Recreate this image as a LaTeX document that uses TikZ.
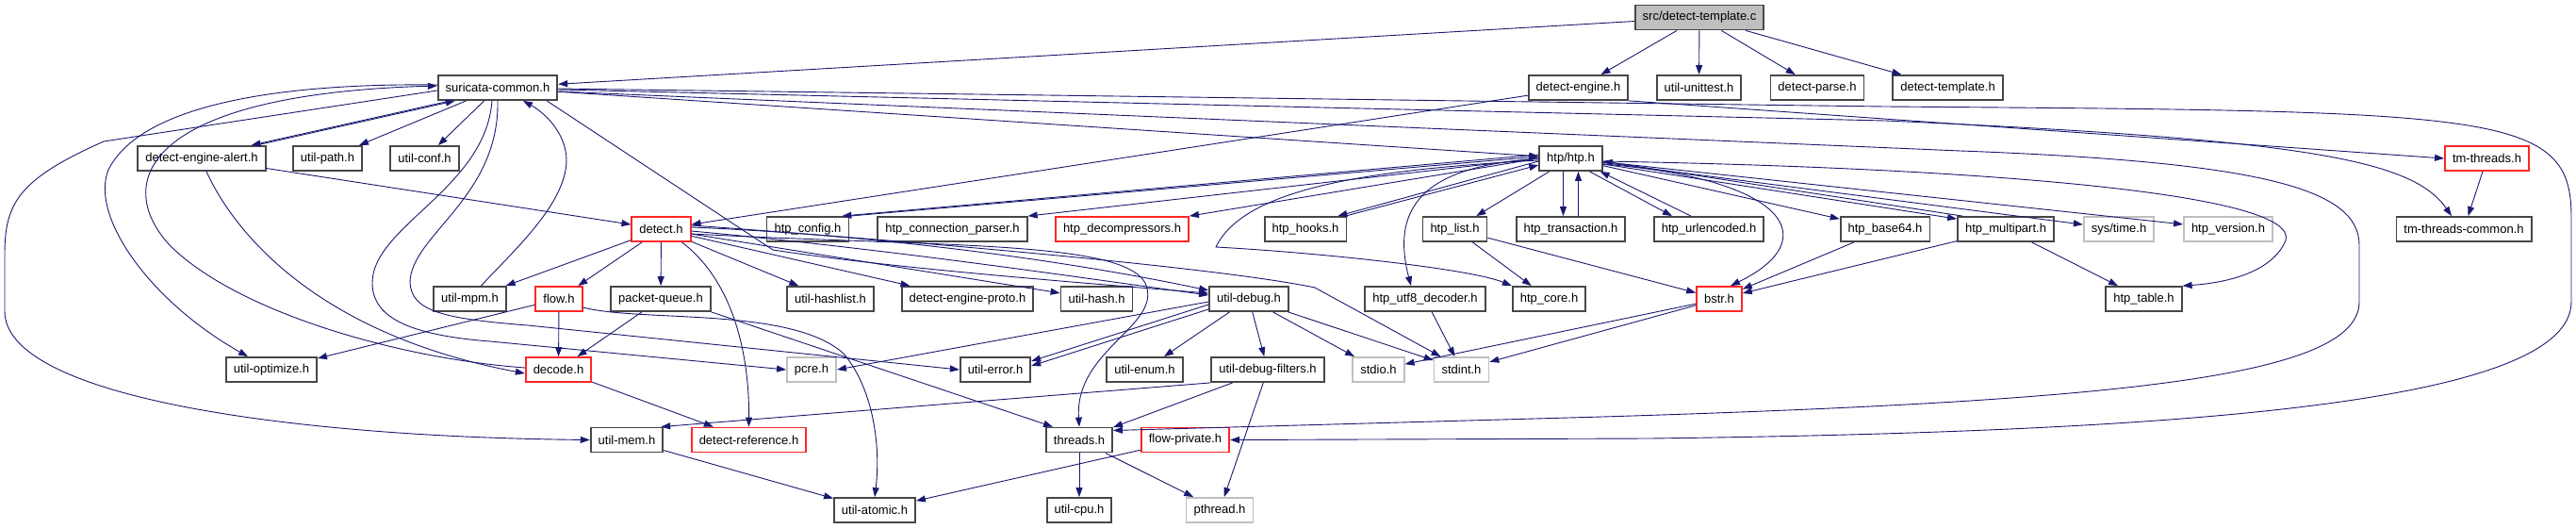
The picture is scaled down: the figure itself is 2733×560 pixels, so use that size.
\documentclass[tikz,border=0pt]{standalone}
\usepackage{fontspec}
\setmainfont{Liberation Sans}
\usetikzlibrary{arrows.meta}
\definecolor{edgeblue}{HTML}{191970}
\definecolor{sysgray}{HTML}{BFBFBF}
\tikzset{
  hdr/.style={draw=black!72, line width=1.8pt, fill=white, inner xsep=8pt, inner ysep=0pt,
    minimum height=26pt, font=\fontsize{13}{15}\selectfont},
  hdrtrunc/.style={hdr, draw=red!85},
  hdrsys/.style={hdr, draw=sysgray},
  srcfile/.style={hdr, fill=sysgray},
  dep/.style={draw=edgeblue, line width=0.9pt, -{Triangle[length=10pt,width=7pt]}},
}
\begin{document}
\begin{tikzpicture}[x=1pt,y=-1pt]
    \useasboundingbox (0,0) rectangle (2733,560);
    % source file
    \node[srcfile] (tmplc) at (1803,18.5) {src/detect-template.c};
    % first level
    \node[hdr] (sc) at (528,93) {suricata-common.h};
    \node[hdr] (de) at (1674.5,93) {detect-engine.h};
    \node[hdr] (uut) at (1802.5,93) {util-unittest.h};
    \node[hdr] (dparse) at (1928,93) {detect-parse.h};
    \node[hdr] (dtmplh) at (2066.5,93) {detect-template.h};
    % second level
    \node[hdr] (dea) at (214,168) {detect-engine-alert.h};
    \node[hdr] (upath) at (347.5,168) {util-path.h};
    \node[hdr] (uconf) at (450.5,168) {util-conf.h};
    \node[hdr] (htp) at (1666.5,168) {htp/htp.h};
    \node[hdrtrunc] (tmt) at (2638.5,168) {tm-threads.h};
    % third level
    \node[hdrtrunc] (det) at (701.5,243) {detect.h};
    \node[hdr] (hcfg) at (857,243) {htp\_config.h};
    \node[hdr] (hconn) at (1010.5,243) {htp\_connection\_parser.h};
    \node[hdrtrunc] (hdec) at (1190.5,243) {htp\_decompressors.h};
    \node[hdr] (hhooks) at (1385,243) {htp\_hooks.h};
    \node[hdr] (hlist) at (1543.5,243) {htp\_list.h};
    \node[hdr] (htx) at (1666.5,243) {htp\_transaction.h};
    \node[hdr] (hurl) at (1813,243) {htp\_urlencoded.h};
    \node[hdr] (hb64) at (2000,243) {htp\_base64.h};
    \node[hdr] (hmp) at (2128,243) {htp\_multipart.h};
    \node[hdrsys] (stime) at (2248,243) {sys/time.h};
    \node[hdrsys] (hver) at (2364,243) {htp\_version.h};
    \node[hdr] (tmtc) at (2614,243) {tm-threads-common.h};
    % fourth level
    \node[hdr] (umpm) at (498.5,317) {util-mpm.h};
    \node[hdrtrunc] (flow) at (593,317) {flow.h};
    \node[hdr] (pq) at (701,317) {packet-queue.h};
    \node[hdr] (uhl) at (881,317) {util-hashlist.h};
    \node[hdr] (deproto) at (1026.5,317) {detect-engine-proto.h};
    \node[hdr] (uhash) at (1163.5,317) {util-hash.h};
    \node[hdr] (udbg) at (1325,317) {util-debug.h};
    \node[hdr] (hutf) at (1512,317) {htp\_utf8\_decoder.h};
    \node[hdr] (hcore) at (1643.5,317) {htp\_core.h};
    \node[hdrtrunc] (bstr) at (1824,317) {bstr.h};
    \node[hdr] (htab) at (2274.5,317) {htp\_table.h};
    % fifth level
    \node[hdr] (uopt) at (288,392) {util-optimize.h};
    \node[hdrtrunc] (dec) at (592.5,392) {decode.h};
    \node[hdrsys] (pcre) at (861,392) {pcre.h};
    \node[hdr] (uerr) at (1056,392) {util-error.h};
    \node[hdr] (uenum) at (1214.5,392) {util-enum.h};
    \node[hdr] (udf) at (1345,392) {util-debug-filters.h};
    \node[hdrsys] (stdio) at (1462.5,392) {stdio.h};
    \node[hdrsys] (stdint) at (1550.5,392) {stdint.h};
    % sixth level
    \node[hdr] (umem) at (665,466.5) {util-mem.h};
    \node[hdrtrunc] (dref) at (794.5,466.5) {detect-reference.h};
    \node[hdr] (thr) at (1145,466.5) {threads.h};
    \node[hdrtrunc] (fpriv) at (1257.5,466.5) {flow-private.h};
    % last level
    \node[hdr] (uatom) at (928,541) {util-atomic.h};
    \node[hdr] (ucpu) at (1145,541) {util-cpu.h};
    \node[hdrsys] (pth) at (1294,541) {pthread.h};

    % includes of the source file
    \draw[dep] (tmplc) -- (sc);
    \draw[dep] (tmplc) -- (de);
    \draw[dep] (tmplc) -- (uut);
    \draw[dep] (tmplc) -- (dparse);
    \draw[dep] (tmplc) -- (dtmplh);

    % suricata-common.h
    \draw[dep] ([xshift=14pt]sc.south west) -- ([xshift=-16pt]dea.north east);
    \draw[dep] ([xshift=-11pt]dea.north east) -- ([xshift=19pt]sc.south west);
    \draw[dep] (sc) -- (upath);
    \draw[dep] (sc) -- (uconf);
    \draw[dep] ([yshift=3pt]sc.west) .. controls (300,88) and (150,110) .. (115,180)
        .. controls (95,230) and (160,320) .. ([xshift=-25pt]uopt.north);
    \draw[dep] ([yshift=-3pt]sc.west) -- (110,150) .. controls (20,190) and (5,215) .. (5,270)
        -- (5,330) .. controls (5,420) and (300,463) .. (umem.west);
    \draw[dep] ([xshift=-6pt]sc.south) .. controls (515,200) and (395,240) .. (395,300)
        .. controls (395,335) and (430,355) .. (520,362) -- (pcre.west);
    \draw[dep] (sc.south) .. controls (530,210) and (435,250) .. (435,300)
        .. controls (437,330) and (470,338) .. (560,345) -- (uerr.west);
    \draw[dep] ([xshift=-12pt]sc.south east) -- (820,265)
        .. controls (950,285) and (1150,300) .. ([yshift=6pt]udbg.west);
    \draw[dep] (sc) -- (htp);
    \draw[dep] ([yshift=-2pt]sc.east) -- (2000,128)
        .. controls (2450,148) and (2560,170) .. ([xshift=-13pt]tmtc.north);
    \draw[dep] ([yshift=-4pt]sc.east) -- (2080,160) .. controls (2400,172) and (2503,200) .. (2503,260)
        -- (2503,320) .. controls (2503,400) and (2250,425) .. (1700,442) -- ([yshift=10pt]thr.east);
    \draw[dep] ([yshift=-1pt]sc.east) -- (2000,113) .. controls (2650,118) and (2728,118) .. (2728,230)
        -- (2728,320) .. controls (2728,430) and (2300,458) .. (1750,465) -- (fpriv.east);

    % into suricata-common.h
    \draw[dep] ([yshift=2pt]dec.west) .. controls (420,380) and (250,330) .. (180,260)
        .. controls (120,195) and (150,100) .. ([yshift=2pt]sc.west);
    \draw[dep] ([xshift=12pt]umpm.north) .. controls (540,270) and (610,210) .. (600,160)
        .. controls (595,135) and (575,118) .. ([xshift=27pt]sc.south);

    % detect-engine-alert.h and detect-engine.h
    \draw[dep] (dea) -- (det);
    \draw[dep] ([xshift=5pt]dea.south) .. controls (250,250) and (340,355) .. ([yshift=-4pt]dec.west);
    \draw[dep] (de) -- (det);
    \draw[dep] (de.south east) -- (tmt.west);
    \draw[dep] (tmt) -- (tmtc);

    % detect.h
    \draw[dep] (det) -- (umpm);
    \draw[dep] (det) -- (flow);
    \draw[dep] (det) -- (pq);
    \draw[dep] ([xshift=22pt]det.south) .. controls (780,300) and (795,380) .. (dref.north);
    \draw[dep] (det) -- (uhl);
    \draw[dep] (det) -- (deproto);
    \draw[dep] (det) -- (uhash);
    \draw[dep] ([yshift=2pt]det.east) .. controls (950,250) and (1150,280) .. ([yshift=9pt]udbg.west);
    \draw[dep] ([yshift=-2pt]det.east) .. controls (950,265) and (1150,295) .. ([yshift=4pt]udbg.west);
    \draw[dep] ([yshift=-5pt]det.east) .. controls (1000,262) and (1190,255) .. (1215,300)
        .. controls (1235,345) and (1140,370) .. (thr.north);
    \draw[dep] ([yshift=4pt]det.east) .. controls (1000,258) and (1300,285) .. (1395,305)
        -- ([xshift=-22pt]stdint.north);

    % flow.h, packet-queue.h, decode.h
    \draw[dep] (flow) -- (dec);
    \draw[dep] (flow) -- (uopt);
    \draw[dep] ([yshift=-9pt]flow.east) .. controls (680,342) and (840,325) .. (895,375)
        .. controls (925,410) and (935,470) .. (uatom.north);
    \draw[dep] (pq) -- (dec);
    \draw[dep] (pq.south east) -- ([xshift=-28pt]thr.north);
    \draw[dep] (dec) -- (dref);
    \draw[dep] (umem) -- (uatom);

    % util-debug.h
    \draw[dep] ([yshift=-3pt]udbg.west) -- (pcre.east);
    \draw[dep] ([yshift=-6pt]udbg.west) -- ([yshift=9pt]uerr.east);
    \draw[dep] ([yshift=-11pt]udbg.west) -- ([yshift=4pt]uerr.east);
    \draw[dep] (udbg) -- (uenum);
    \draw[dep] (udbg) -- (udf);
    \draw[dep] (udbg) -- (stdio);
    \draw[dep] (udbg) -- (stdint);
    \draw[dep] (udf.south west) -- ([xshift=-3pt]umem.north east);
    \draw[dep] (udf) -- (thr);
    \draw[dep] (udf) -- (pth);
    \draw[dep] (thr) -- (ucpu);
    \draw[dep] (thr) -- (pth);
    \draw[dep] (fpriv) -- (uatom);

    % htp/htp.h
    \draw[dep] ([yshift=4pt]htp.west) -- ([xshift=-8pt]hcfg.north east);
    \draw[dep] (hcfg.north east) -- ([yshift=2pt]htp.west);
    \draw[dep] (htp.west) -- (hconn.north east);
    \draw[dep] (htp.west) -- (hdec.north east);
    \draw[dep] ([yshift=-3pt]htp.west) -- ([xshift=-10pt]hhooks.north east);
    \draw[dep] ([xshift=-2pt]hhooks.north east) -- ([yshift=-7pt]htp.west);
    \draw[dep] (htp) -- (hlist);
    \draw[dep] ([xshift=-8pt]htp.south) -- ([xshift=-8pt]htx.north);
    \draw[dep] ([xshift=8pt]htx.north) -- ([xshift=8pt]htp.south);
    \draw[dep] ([xshift=20pt]htp.south) -- ([xshift=-39pt]hurl.north);
    \draw[dep] ([xshift=-19pt]hurl.north) -- ([xshift=-3pt]htp.south east);
    \draw[dep] (htp) -- (hb64);
    \draw[dep] ([yshift=-6pt]htp.east) -- ([yshift=-3pt]hmp.north west);
    \draw[dep] ([xshift=6pt]hmp.north west) -- ([yshift=-3pt]htp.east);
    \draw[dep] (htp) -- (stime);
    \draw[dep] (htp) -- (hver);
    \draw[dep] ([yshift=-3pt]htp.east) .. controls (2100,178) and (2440,205) .. (2425,255)
        .. controls (2410,290) and (2360,300) .. (htab.north east);
    \draw[dep] ([yshift=-6pt]htp.east) .. controls (1900,190) and (1935,255) .. ([xshift=12pt]bstr.north);
    \draw[dep] (htp.west) .. controls (1540,175) and (1470,200) .. ([xshift=-15pt]hutf.north);
    \draw[dep] ([yshift=-2pt]htp.west) .. controls (1450,180) and (1320,200) .. (1290,262)
        .. controls (1400,268) and (1560,285) .. (hcore.north west);

    % htp headers below
    \draw[dep] (hlist) -- (hcore);
    \draw[dep] (hlist) -- (bstr);
    \draw[dep] (hb64) -- (bstr);
    \draw[dep] (hmp) -- (bstr);
    \draw[dep] (hmp) -- (htab);
    \draw[dep] (hutf) -- (stdint);
    \draw[dep] (bstr) -- (stdio);
    \draw[dep] (bstr) -- (stdint);
\end{tikzpicture}
\end{document}
